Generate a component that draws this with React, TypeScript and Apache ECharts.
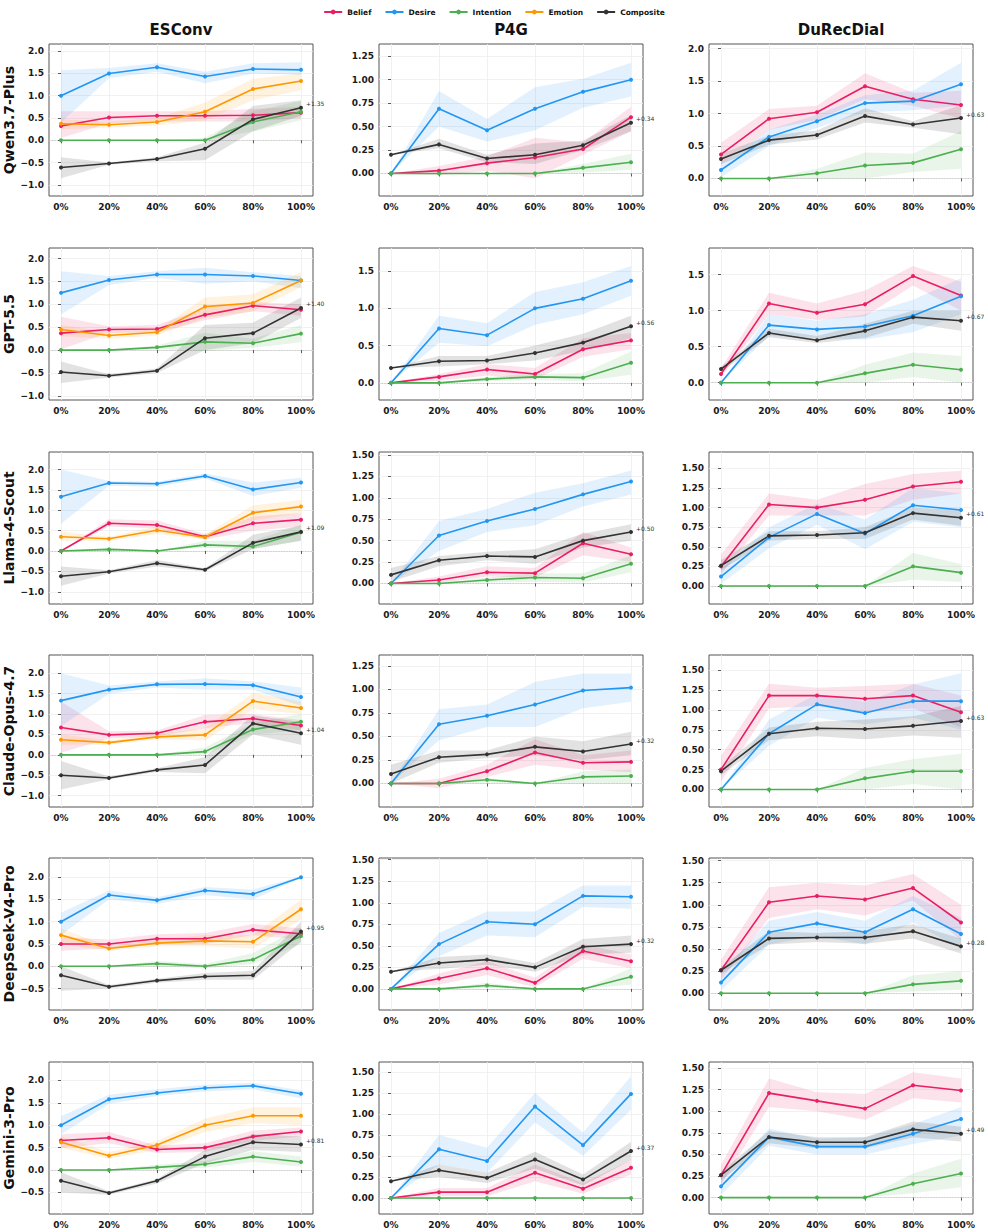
import React, { useEffect, useRef } from "react";
import * as echarts from "echarts";

const X_LABELS = ["0%", "20%", "40%", "60%", "80%", "100%"];
const X_POS = [0, 1, 2, 3, 4, 5];
const DATASETS = ["ESConv", "P4G", "DuRecDial"];
const MODELS = ["Qwen3.7-Plus", "GPT-5.5", "Llama-4-Scout", "Claude-Opus-4.7", "DeepSeek-V4-Pro", "Gemini-3-Pro"];
const METRICS = ["Belief", "Desire", "Intention", "Emotion", "Composite"];
const COLORS: Record<string, string> = {
  Belief: "#E91E63",
  Desire: "#2196F3",
  Intention: "#4CAF50",
  Emotion: "#FF9800",
  Composite: "#333333",
};

// Composite gain annotations (row = model, col = dataset)
const GAINS = [
  ["+1.35", "+0.34", "+0.63"],
  ["+1.40", "+0.56", "+0.67"],
  ["+1.09", "+0.50", "+0.61"],
  ["+1.04", "+0.32", "+0.63"],
  ["+0.95", "+0.32", "+0.28"],
  ["+0.81", "+0.37", "+0.49"],
];

// y tick label values
const TICKS_ES_FULL = [-1, -0.5, 0, 0.5, 1, 1.5, 2];
const TICKS_ES_SHORT = [-0.5, 0, 0.5, 1, 1.5, 2];
const TICKS_Q_125 = [0, 0.25, 0.5, 0.75, 1, 1.25];
const TICKS_Q_150 = [0, 0.25, 0.5, 0.75, 1, 1.25, 1.5];
const TICKS_H_15 = [0, 0.5, 1, 1.5];
const TICKS_H_20 = [0, 0.5, 1, 1.5, 2];

const Y_TICKS = [
  [TICKS_ES_FULL, TICKS_Q_125, TICKS_H_20],
  [TICKS_ES_FULL, TICKS_H_15, TICKS_H_15],
  [TICKS_ES_FULL, TICKS_Q_150, TICKS_Q_150],
  [TICKS_ES_FULL, TICKS_Q_125, TICKS_Q_150],
  [TICKS_ES_SHORT, TICKS_Q_150, TICKS_Q_150],
  [TICKS_ES_SHORT, TICKS_Q_150, TICKS_Q_150],
];
const Y_RANGE = [
  [[-1.25, 2.16], [-0.24, 1.38], [-0.27, 2.07]],
  [[-1.09, 2.23], [-0.23, 1.81], [-0.24, 1.87]],
  [[-1.3, 2.43], [-0.24, 1.535], [-0.23, 1.71]],
  [[-1.28, 2.45], [-0.25, 1.367], [-0.22, 1.69]],
  [[-0.98, 2.43], [-0.245, 1.52], [-0.19, 1.53]],
  [[-0.98, 2.41], [-0.19, 1.62], [-0.19, 1.57]],
];

type S = { mean: number[]; lo: number[]; hi: number[] };
type Panel = Record<string, S>;

// ---------------- Qwen3.7-Plus ----------------
const qwenESConv: Panel = {
  Belief: { mean: [0.32, 0.51, 0.55, 0.55, 0.56, 0.62], lo: [0.05, 0.38, 0.42, 0.42, 0.42, 0.5], hi: [0.65, 0.65, 0.65, 0.65, 0.7, 0.75] },
  Desire: { mean: [1.0, 1.5, 1.64, 1.43, 1.6, 1.58], lo: [0.4, 1.39, 1.54, 1.28, 1.5, 1.47], hi: [1.57, 1.62, 1.73, 1.54, 1.73, 1.75] },
  Intention: { mean: [0, 0, 0, 0, 0.41, 0.64], lo: [0, 0, 0, 0, 0.2, 0.45], hi: [0, 0, 0, 0.05, 0.65, 0.88] },
  Emotion: { mean: [0.37, 0.35, 0.41, 0.64, 1.15, 1.33], lo: [0.25, 0.28, 0.33, 0.45, 0.9, 1.13], hi: [0.47, 0.42, 0.5, 0.85, 1.38, 1.5] },
  Composite: { mean: [-0.61, -0.52, -0.42, -0.19, 0.47, 0.73], lo: [-0.85, -0.55, -0.47, -0.45, 0.2, 0.55], hi: [-0.38, -0.5, -0.38, -0.05, 0.77, 0.9] },
};
const qwenP4G: Panel = {
  Belief: { mean: [0, 0.03, 0.11, 0.17, 0.26, 0.6], lo: [0, -0.02, 0.03, -0.05, 0.2, 0.45], hi: [0, 0.08, 0.18, 0.38, 0.33, 0.71] },
  Desire: { mean: [0, 0.69, 0.46, 0.69, 0.87, 1.0], lo: [0, 0.5, 0.34, 0.46, 0.7, 0.82], hi: [0, 0.88, 0.58, 0.92, 1.01, 1.18] },
  Intention: { mean: [0, 0, 0, 0, 0.06, 0.12], lo: [0, 0, 0, 0, 0.01, 0.04], hi: [0, 0, 0, 0, 0.1, 0.21] },
  Composite: { mean: [0.2, 0.31, 0.16, 0.2, 0.3, 0.54], lo: [0.2, 0.27, 0.12, 0.1, 0.25, 0.45], hi: [0.2, 0.37, 0.2, 0.32, 0.35, 0.62] },
};
const qwenDuRec: Panel = {
  Belief: { mean: [0.37, 0.92, 1.02, 1.42, 1.22, 1.13], lo: [0.22, 0.75, 0.9, 1.22, 1.12, 0.92], hi: [0.55, 1.07, 1.12, 1.62, 1.32, 1.35] },
  Desire: { mean: [0.13, 0.64, 0.88, 1.16, 1.19, 1.45], lo: [0.02, 0.5, 0.78, 1.02, 1.05, 1.12], hi: [0.22, 0.75, 0.98, 1.28, 1.35, 1.78] },
  Intention: { mean: [0, 0, 0.08, 0.2, 0.24, 0.45], lo: [0, 0, 0, 0, 0.1, 0.15], hi: [0, 0, 0.15, 0.4, 0.38, 0.73] },
  Composite: { mean: [0.3, 0.59, 0.67, 0.96, 0.83, 0.93], lo: [0.22, 0.52, 0.6, 0.86, 0.78, 0.68], hi: [0.38, 0.66, 0.74, 1.08, 0.88, 1.13] },
};

// ---------------- GPT-5.5 ----------------
const gptESConv: Panel = {
  Belief: { mean: [0.37, 0.45, 0.46, 0.77, 0.97, 0.88], lo: [0.02, 0.38, 0.38, 0.65, 0.85, 0.75], hi: [0.73, 0.52, 0.55, 0.92, 1.05, 1.0] },
  Desire: { mean: [1.25, 1.53, 1.65, 1.65, 1.62, 1.52], lo: [0.78, 1.42, 1.58, 1.45, 1.5, 1.35], hi: [1.72, 1.62, 1.72, 1.8, 1.7, 1.62] },
  Intention: { mean: [0, 0, 0.06, 0.18, 0.15, 0.36], lo: [0, 0, 0.02, -0.02, 0.05, 0.17], hi: [0, 0, 0.1, 0.38, 0.25, 0.55] },
  Emotion: { mean: [0.45, 0.32, 0.39, 0.95, 1.03, 1.52], lo: [0.3, 0.25, 0.32, 0.7, 0.85, 1.38], hi: [0.55, 0.4, 0.45, 1.15, 1.22, 1.7] },
  Composite: { mean: [-0.48, -0.56, -0.45, 0.26, 0.37, 0.92], lo: [-0.72, -0.6, -0.5, 0.0, 0.15, 0.7], hi: [-0.25, -0.53, -0.4, 0.55, 0.6, 1.15] },
};
const gptP4G: Panel = {
  Belief: { mean: [0, 0.08, 0.18, 0.12, 0.45, 0.57], lo: [0, 0.03, 0.1, 0.05, 0.35, 0.45], hi: [0, 0.12, 0.25, 0.2, 0.6, 0.67] },
  Desire: { mean: [0, 0.73, 0.64, 1.0, 1.13, 1.37], lo: [0, 0.54, 0.49, 0.78, 0.92, 1.17], hi: [0, 0.9, 0.8, 1.22, 1.35, 1.57] },
  Intention: { mean: [0, 0, 0.05, 0.08, 0.07, 0.27], lo: [0, 0, 0.02, 0.04, 0.02, 0.11], hi: [0, 0, 0.08, 0.12, 0.13, 0.42] },
  Composite: { mean: [0.2, 0.29, 0.3, 0.4, 0.54, 0.76], lo: [0.2, 0.22, 0.25, 0.3, 0.43, 0.6], hi: [0.2, 0.36, 0.36, 0.5, 0.66, 0.9] },
};
const gptDuRec: Panel = {
  Belief: { mean: [0.12, 1.1, 0.97, 1.09, 1.48, 1.21], lo: [0.08, 0.95, 0.87, 0.92, 1.35, 1.0], hi: [0.2, 1.25, 1.1, 1.28, 1.62, 1.4] },
  Desire: { mean: [0, 0.8, 0.74, 0.78, 0.93, 1.2], lo: [0, 0.65, 0.62, 0.6, 0.7, 0.95], hi: [0, 0.95, 0.86, 0.95, 1.15, 1.45] },
  Intention: { mean: [0, 0, 0, 0.13, 0.25, 0.18], lo: [0, 0, 0, 0, 0.08, 0], hi: [0, 0, 0, 0.25, 0.42, 0.37] },
  Composite: { mean: [0.19, 0.69, 0.59, 0.72, 0.91, 0.86], lo: [0.15, 0.63, 0.55, 0.62, 0.82, 0.72], hi: [0.22, 0.75, 0.65, 0.82, 1.0, 1.0] },
};

// ---------------- Llama-4-Scout ----------------
const llamaESConv: Panel = {
  Belief: { mean: [0, 0.68, 0.64, 0.35, 0.68, 0.77], lo: [0, 0.6, 0.55, 0.28, 0.5, 0.6], hi: [0, 0.78, 0.75, 0.42, 0.85, 0.93] },
  Desire: { mean: [1.33, 1.67, 1.65, 1.84, 1.51, 1.68], lo: [0.67, 1.6, 1.58, 1.78, 1.35, 1.55], hi: [2.0, 1.72, 1.7, 1.9, 1.68, 1.8] },
  Intention: { mean: [0, 0.04, 0, 0.15, 0.11, 0.46], lo: [0, 0, 0, 0.08, 0.05, 0.25], hi: [0, 0.08, 0, 0.25, 0.25, 0.65] },
  Emotion: { mean: [0.35, 0.3, 0.51, 0.34, 0.94, 1.09], lo: [0.25, 0.25, 0.42, 0.28, 0.75, 0.93], hi: [0.48, 0.35, 0.6, 0.4, 1.12, 1.25] },
  Composite: { mean: [-0.62, -0.51, -0.3, -0.46, 0.2, 0.47], lo: [-0.85, -0.55, -0.38, -0.5, 0.05, 0.25], hi: [-0.38, -0.47, -0.22, -0.42, 0.4, 0.62] },
};
const llamaP4G: Panel = {
  Belief: { mean: [0, 0.04, 0.13, 0.12, 0.47, 0.34], lo: [0, 0, 0.08, 0.07, 0.33, 0.25], hi: [0, 0.08, 0.2, 0.18, 0.6, 0.42] },
  Desire: { mean: [0, 0.56, 0.73, 0.87, 1.04, 1.19], lo: [0, 0.38, 0.6, 0.68, 0.9, 1.04], hi: [0, 0.73, 0.87, 1.06, 1.17, 1.32] },
  Intention: { mean: [0, 0, 0.04, 0.07, 0.06, 0.23], lo: [0, 0, 0.01, 0.02, 0.01, 0.13], hi: [0, 0, 0.07, 0.12, 0.12, 0.33] },
  Composite: { mean: [0.1, 0.27, 0.32, 0.31, 0.5, 0.6], lo: [0.02, 0.2, 0.27, 0.23, 0.42, 0.5], hi: [0.18, 0.32, 0.37, 0.4, 0.58, 0.69] },
};
const llamaDuRec: Panel = {
  Belief: { mean: [0.25, 1.04, 1.0, 1.1, 1.27, 1.33], lo: [0.15, 0.9, 0.9, 0.9, 1.1, 1.18], hi: [0.4, 1.18, 1.1, 1.3, 1.43, 1.47] },
  Desire: { mean: [0.12, 0.62, 0.92, 0.67, 1.03, 0.97], lo: [0.03, 0.48, 0.78, 0.47, 0.82, 0.75], hi: [0.22, 0.75, 1.05, 0.85, 1.25, 1.18] },
  Intention: { mean: [0, 0, 0, 0, 0.25, 0.17], lo: [0, 0, 0, 0, 0.08, 0.05], hi: [0, 0, 0, 0, 0.42, 0.28] },
  Composite: { mean: [0.26, 0.64, 0.65, 0.68, 0.93, 0.87], lo: [0.2, 0.58, 0.6, 0.6, 0.85, 0.77], hi: [0.33, 0.7, 0.7, 0.75, 1.0, 0.97] },
};

// ---------------- Claude-Opus-4.7 ----------------
const claudeESConv: Panel = {
  Belief: { mean: [0.67, 0.49, 0.53, 0.81, 0.89, 0.72], lo: [0.05, 0.4, 0.45, 0.65, 0.78, 0.6], hi: [1.3, 0.58, 0.6, 0.98, 1.0, 0.85] },
  Desire: { mean: [1.33, 1.6, 1.73, 1.74, 1.71, 1.42], lo: [0.7, 1.5, 1.65, 1.6, 1.6, 1.2], hi: [2.0, 1.7, 1.8, 1.88, 1.8, 1.65] },
  Intention: { mean: [0, 0, 0, 0.08, 0.62, 0.81], lo: [0, 0, 0, 0, 0.5, 0.6], hi: [0, 0, 0, 0.18, 0.78, 1.0] },
  Emotion: { mean: [0.37, 0.3, 0.44, 0.49, 1.32, 1.15], lo: [0.25, 0.25, 0.38, 0.35, 1.12, 1.0], hi: [0.5, 0.36, 0.52, 0.65, 1.52, 1.3] },
  Composite: { mean: [-0.5, -0.57, -0.37, -0.25, 0.77, 0.53], lo: [-0.85, -0.6, -0.42, -0.45, 0.5, 0.25], hi: [-0.15, -0.53, -0.33, -0.05, 0.97, 0.8] },
};
const claudeP4G: Panel = {
  Belief: { mean: [0, 0, 0.13, 0.33, 0.22, 0.23], lo: [0, -0.05, 0.07, 0.2, 0.15, 0.12], hi: [0, 0.05, 0.2, 0.47, 0.3, 0.35] },
  Desire: { mean: [0, 0.63, 0.72, 0.84, 0.99, 1.02], lo: [0, 0.46, 0.6, 0.6, 0.8, 0.87], hi: [0, 0.79, 0.84, 1.08, 1.17, 1.17] },
  Intention: { mean: [0, 0, 0.04, 0, 0.07, 0.08], lo: [0, 0, 0.01, 0, 0, 0], hi: [0, 0, 0.06, 0, 0.13, 0.15] },
  Composite: { mean: [0.1, 0.28, 0.31, 0.39, 0.34, 0.42], lo: [0.0, 0.22, 0.27, 0.3, 0.25, 0.3], hi: [0.2, 0.35, 0.35, 0.5, 0.45, 0.55] },
};
const claudeDuRec: Panel = {
  Belief: { mean: [0.25, 1.18, 1.18, 1.14, 1.18, 0.97], lo: [0.1, 1.02, 1.05, 0.97, 1.02, 0.78], hi: [0.42, 1.33, 1.28, 1.3, 1.33, 1.18] },
  Desire: { mean: [0, 0.7, 1.07, 0.96, 1.11, 1.11], lo: [0, 0.55, 0.9, 0.82, 0.9, 0.75], hi: [0, 0.88, 1.2, 1.1, 1.32, 1.46] },
  Intention: { mean: [0, 0, 0, 0.14, 0.23, 0.23], lo: [0, 0, 0, 0, 0.07, 0], hi: [0, 0, 0, 0.27, 0.38, 0.45] },
  Composite: { mean: [0.23, 0.7, 0.77, 0.76, 0.8, 0.86], lo: [0.18, 0.62, 0.67, 0.63, 0.68, 0.65], hi: [0.28, 0.78, 0.85, 0.88, 0.92, 1.05] },
};

// ---------------- DeepSeek-V4-Pro ----------------
const deepseekESConv: Panel = {
  Belief: { mean: [0.5, 0.5, 0.62, 0.62, 0.82, 0.73], lo: [0.35, 0.4, 0.5, 0.5, 0.7, 0.6], hi: [0.65, 0.6, 0.72, 0.75, 0.95, 0.85] },
  Desire: { mean: [1.0, 1.6, 1.48, 1.7, 1.62, 2.0], lo: [0.7, 1.5, 1.4, 1.6, 1.5, 1.98], hi: [1.2, 1.7, 1.55, 1.78, 1.72, 2.02] },
  Intention: { mean: [0, 0, 0.06, 0, 0.15, 0.68], lo: [0, 0, 0, -0.05, 0.05, 0.5], hi: [0, 0, 0.12, 0.05, 0.3, 0.88] },
  Emotion: { mean: [0.7, 0.4, 0.52, 0.57, 0.55, 1.28], lo: [0.5, 0.35, 0.45, 0.45, 0.4, 1.05], hi: [0.85, 0.45, 0.6, 0.7, 0.7, 1.5] },
  Composite: { mean: [-0.2, -0.46, -0.32, -0.23, -0.2, 0.78], lo: [-0.55, -0.5, -0.37, -0.3, -0.3, 0.55], hi: [0.0, -0.42, -0.28, -0.15, -0.1, 1.0] },
};
const deepseekP4G: Panel = {
  Belief: { mean: [0, 0.12, 0.24, 0.07, 0.44, 0.32], lo: [0, 0.05, 0.16, 0.02, 0.35, 0.24], hi: [0, 0.18, 0.32, 0.13, 0.52, 0.4] },
  Desire: { mean: [0, 0.52, 0.78, 0.75, 1.08, 1.07], lo: [0, 0.38, 0.62, 0.6, 0.95, 0.93], hi: [0, 0.65, 0.9, 0.9, 1.2, 1.2] },
  Intention: { mean: [0, 0, 0.04, 0, 0, 0.14], lo: [0, 0, 0.01, 0, 0, 0.05], hi: [0, 0, 0.07, 0, 0, 0.24] },
  Composite: { mean: [0.2, 0.3, 0.34, 0.25, 0.49, 0.52], lo: [0.2, 0.23, 0.28, 0.2, 0.4, 0.42], hi: [0.2, 0.37, 0.4, 0.3, 0.58, 0.62] },
};
const deepseekDuRec: Panel = {
  Belief: { mean: [0.26, 1.03, 1.1, 1.06, 1.19, 0.8], lo: [0.15, 0.85, 0.95, 0.88, 1.05, 0.6], hi: [0.38, 1.2, 1.25, 1.22, 1.35, 1.0] },
  Desire: { mean: [0.12, 0.69, 0.79, 0.69, 0.95, 0.67], lo: [0.03, 0.55, 0.65, 0.55, 0.8, 0.5], hi: [0.22, 0.82, 0.92, 0.82, 1.1, 0.85] },
  Intention: { mean: [0, 0, 0, 0, 0.1, 0.14], lo: [0, 0, 0, 0, 0.02, 0.04], hi: [0, 0, 0, 0, 0.2, 0.25] },
  Composite: { mean: [0.26, 0.62, 0.63, 0.63, 0.7, 0.53], lo: [0.22, 0.55, 0.58, 0.56, 0.62, 0.45], hi: [0.3, 0.7, 0.68, 0.7, 0.78, 0.62] },
};

// ---------------- Gemini-3-Pro ----------------
const geminiESConv: Panel = {
  Belief: { mean: [0.66, 0.72, 0.46, 0.5, 0.75, 0.86], lo: [0.5, 0.6, 0.38, 0.4, 0.65, 0.75], hi: [0.8, 0.85, 0.55, 0.6, 0.88, 0.95] },
  Desire: { mean: [1.0, 1.58, 1.72, 1.83, 1.88, 1.7], lo: [0.8, 1.48, 1.65, 1.75, 1.8, 1.6], hi: [1.2, 1.68, 1.8, 1.9, 1.95, 1.78] },
  Intention: { mean: [0, 0, 0.06, 0.13, 0.3, 0.18], lo: [0, 0, 0, 0.05, 0.18, 0.08], hi: [0, 0, 0.12, 0.2, 0.42, 0.3] },
  Emotion: { mean: [0.62, 0.32, 0.56, 1.0, 1.21, 1.21], lo: [0.5, 0.25, 0.45, 0.85, 1.05, 1.0], hi: [0.75, 0.4, 0.65, 1.15, 1.4, 1.4] },
  Composite: { mean: [-0.24, -0.51, -0.24, 0.3, 0.62, 0.57], lo: [-0.5, -0.55, -0.3, 0.15, 0.45, 0.4], hi: [-0.05, -0.47, -0.2, 0.45, 0.8, 0.75] },
};
const geminiP4G: Panel = {
  Belief: { mean: [0, 0.07, 0.07, 0.3, 0.11, 0.36], lo: [0, 0.02, 0.02, 0.2, 0.05, 0.28], hi: [0, 0.12, 0.12, 0.4, 0.18, 0.45] },
  Desire: { mean: [0, 0.58, 0.44, 1.09, 0.63, 1.24], lo: [0, 0.4, 0.3, 0.9, 0.5, 1.05], hi: [0, 0.75, 0.6, 1.25, 0.78, 1.45] },
  Intention: { mean: [0, 0, 0, 0, 0, 0], lo: [0, 0, 0, 0, 0, 0], hi: [0, 0, 0, 0, 0, 0] },
  Composite: { mean: [0.2, 0.33, 0.24, 0.46, 0.22, 0.56], lo: [0.2, 0.25, 0.18, 0.35, 0.15, 0.45], hi: [0.2, 0.4, 0.3, 0.55, 0.28, 0.67] },
};
const geminiDuRec: Panel = {
  Belief: { mean: [0.26, 1.21, 1.12, 1.03, 1.3, 1.24], lo: [0.15, 1.05, 1.0, 0.9, 1.15, 1.1], hi: [0.38, 1.38, 1.22, 1.2, 1.45, 1.38] },
  Desire: { mean: [0.13, 0.7, 0.59, 0.59, 0.74, 0.91], lo: [0.03, 0.6, 0.5, 0.5, 0.62, 0.72], hi: [0.22, 0.8, 0.68, 0.7, 0.85, 1.05] },
  Intention: { mean: [0, 0, 0, 0, 0.16, 0.28], lo: [0, 0, 0, 0, 0.05, 0.12], hi: [0, 0, 0, 0, 0.28, 0.45] },
  Composite: { mean: [0.26, 0.7, 0.64, 0.64, 0.79, 0.74], lo: [0.2, 0.63, 0.57, 0.57, 0.7, 0.65], hi: [0.3, 0.77, 0.7, 0.7, 0.88, 0.82] },
};

const PANELS: Panel[][] = [
  [qwenESConv, qwenP4G, qwenDuRec],
  [gptESConv, gptP4G, gptDuRec],
  [llamaESConv, llamaP4G, llamaDuRec],
  [claudeESConv, claudeP4G, claudeDuRec],
  [deepseekESConv, deepseekP4G, deepseekDuRec],
  [geminiESConv, geminiP4G, geminiDuRec],
];

// layout
const COL_LEFT = [49, 379, 709];
const ROW_TOP = [44, 248, 452, 655, 858, 1062];
const PLOT_W = 264;
const PLOT_H = 152;
const FONT = "DejaVu Sans";

function rgba(hex: string, a: number) {
  const n = parseInt(hex.slice(1), 16);
  return `rgba(${(n >> 16) & 255},${(n >> 8) & 255},${n & 255},${a})`;
}

function fmtTick(v: number, dec: number) {
  return v.toFixed(dec).replace("-", "\u2212");
}

function buildOption() {
  const grids: any[] = [];
  const xAxes: any[] = [];
  const yAxes: any[] = [];
  const series: any[] = [];
  let k = 0;
  for (let r = 0; r < MODELS.length; r++) {
    for (let c = 0; c < DATASETS.length; c++) {
      const ticks = Y_TICKS[r][c];
      const dec = ticks.some((t) => Math.abs(t * 2 - Math.round(t * 2)) > 1e-9) ? 2 : 1;
      const [ymin, ymax] = Y_RANGE[r][c];
      grids.push({
        left: COL_LEFT[c],
        top: ROW_TOP[r],
        width: PLOT_W,
        height: PLOT_H,
        show: true,
        borderColor: "#555",
        borderWidth: 1,
        backgroundColor: "#fff",
      });
      xAxes.push({
        gridIndex: k,
        type: "value",
        min: -0.25,
        max: 5.25,
        axisLine: { show: false },
        axisTick: { show: true, customValues: X_POS, length: 3, lineStyle: { color: "#333", width: 0.8 } },
        axisLabel: {
          customValues: X_POS,
          formatter: (v: number) => X_LABELS[Math.round(v)] ?? "",
          fontSize: 9,
          fontWeight: "bold",
          color: "#1a1a1a",
          fontFamily: FONT,
          margin: 6,
        },
        splitLine: { show: true, lineStyle: { color: "#ededed", width: 0.8 } },
      });
      yAxes.push({
        gridIndex: k,
        type: "value",
        min: ymin,
        max: ymax,
        name: c === 0 ? MODELS[r] : "",
        nameLocation: "middle",
        nameGap: 33,
        nameRotate: 90,
        nameTextStyle: { fontSize: 14, fontWeight: "bold", color: "#111", fontFamily: FONT },
        axisLine: { show: false },
        axisTick: { show: true, customValues: ticks, length: 3, lineStyle: { color: "#333", width: 0.8 } },
        axisLabel: {
          customValues: ticks,
          formatter: (v: number) => fmtTick(v, dec),
          fontSize: 9,
          fontWeight: "bold",
          color: "#1a1a1a",
          fontFamily: FONT,
          margin: 5,
        },
        splitLine: { show: true, lineStyle: { color: "#ededed", width: 0.8 } },
      });

      const panel = PANELS[r][c];
      let first = true;
      for (const m of METRICS) {
        const s = panel[m];
        if (!s) continue;
        const color = COLORS[m];
        const bandAlpha = m === "Composite" ? 0.14 : 0.13;
        series.push({
          type: "custom",
          name: `${m}-band-${k}`,
          xAxisIndex: k,
          yAxisIndex: k,
          silent: true,
          z: 1,
          data: s.lo.map((l, i) => [X_POS[i], l, s.hi[i]]),
          encode: { x: 0, y: [1, 2] },
          renderItem: (params: any, api: any) => {
            if (params.dataIndex !== 0) return null;
            const top = s.hi.map((h, i) => api.coord([X_POS[i], h]));
            const bot = s.lo.map((l, i) => api.coord([X_POS[i], l])).reverse();
            return {
              type: "polygon",
              shape: { points: top.concat(bot) },
              style: { fill: rgba(color, bandAlpha), stroke: "none" },
            };
          },
        });
        const data: any[] = s.mean.map((v, i) => [X_POS[i], v]);
        if (m === "Composite") {
          data[5] = {
            value: [X_POS[5], s.mean[5]],
            label: {
              show: true,
              position: "right",
              distance: 3,
              offset: [0, -4],
              formatter: GAINS[r][c],
              fontSize: 6,
              color: "#333",
              fontFamily: FONT,
            },
          };
        }
        const line: any = {
          type: "line",
          name: m,
          xAxisIndex: k,
          yAxisIndex: k,
          data,
          symbol: "circle",
          symbolSize: 4,
          showSymbol: true,
          silent: true,
          z: 3,
          lineStyle: { width: 1.6, color },
          itemStyle: { color },
          emphasis: { disabled: true },
        };
        if (first) {
          line.markLine = {
            silent: true,
            symbol: "none",
            label: { show: false },
            lineStyle: { color: "#b5b5b5", type: "dotted", width: 0.8 },
            data: [{ yAxis: 0 }],
            z: 0,
          };
          first = false;
        }
        series.push(line);
      }
      k++;
    }
  }

  const graphic = DATASETS.map((d, c) => ({
    type: "text",
    x: COL_LEFT[c] + PLOT_W / 2,
    y: 30,
    style: {
      text: d,
      font: `bold 15px "${FONT}"`,
      fill: "#111",
      textAlign: "center",
      textVerticalAlign: "middle",
    },
  }));

  return {
    animation: false,
    backgroundColor: "#fff",
    textStyle: { fontFamily: FONT },
    legend: {
      top: 3,
      left: "center",
      data: METRICS,
      itemWidth: 18,
      itemHeight: 6,
      itemGap: 13,
      textStyle: { fontSize: 7.5, fontWeight: "bold", color: "#111", fontFamily: FONT },
    },
    graphic,
    grid: grids,
    xAxis: xAxes,
    yAxis: yAxes,
    series,
  };
}

export default function App() {
  const ref = useRef<HTMLDivElement>(null);
  useEffect(() => {
    const chart = echarts.init(ref.current!, null, { renderer: "svg" });
    chart.setOption(buildOption() as any);
    return () => chart.dispose();
  }, []);
  return (
    <div
      ref={ref}
      style={{ position: "fixed", left: 0, top: 0, width: 988, height: 1232, background: "#fff" }}
    />
  );
}
